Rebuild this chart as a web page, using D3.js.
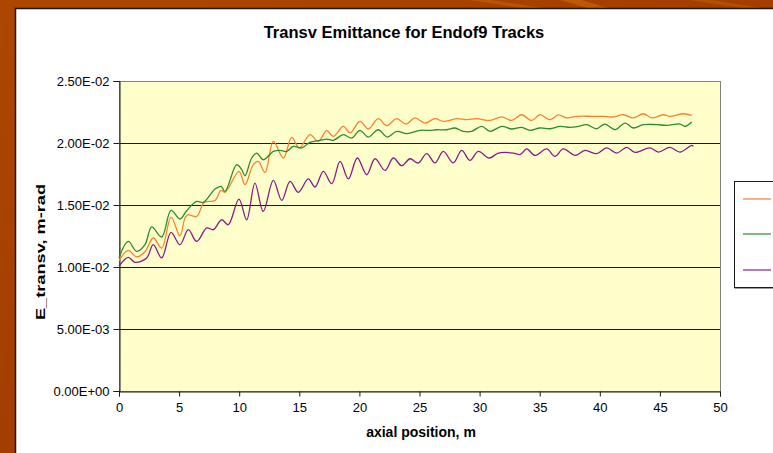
<!DOCTYPE html>
<html>
<head>
<meta charset="utf-8">
<script src="https://cdn.jsdelivr.net/npm/d3@7"></script>
<style>
  html, body { margin: 0; padding: 0; }
  body { width: 773px; height: 453px; overflow: hidden; background: #a84300; }
  svg { display: block; }
</style>
</head>
<body>
<svg id="chart" width="773" height="453"></svg>
<script>
// Transverse emittance along the channel for three track sets
const xTicks = [0, 5, 10, 15, 20, 25, 30, 35, 40, 45, 50];
const yTicks = [0, 0.005, 0.01, 0.015, 0.02, 0.025];

const orangeX = [0, 0.77, 1.47, 2.16, 2.85, 3.55, 4.33, 5.07, 5.49, 5.74, 6.46, 7.10, 7.99, 8.49, 8.82, 9.98, 10.48, 11.17, 11.59, 12.15, 12.84, 13.67, 14.37, 15.0, 15.89, 16.58, 17.28, 17.83, 18.66, 19.22, 20.05, 20.74, 21.57, 22.27, 23.10, 23.88, 24.63, 25.46, 26.29, 26.98, 28.09, 28.93, 29.76, 30.87, 31.84, 32.67, 33.50, 34.33, 35.02, 35.86, 36.55, 37.25, 38.08, 39.46, 40.29, 41.12, 41.96, 42.79, 43.62, 44.32, 45.28, 45.84, 46.94, 47.65];
const orangeY = [0.01051, 0.01134, 0.01081, 0.01123, 0.01234, 0.01153, 0.01403, 0.01252, 0.01395, 0.01422, 0.01408, 0.01521, 0.01537, 0.01618, 0.01602, 0.01771, 0.01665, 0.01825, 0.01852, 0.01763, 0.02013, 0.01879, 0.02045, 0.01960, 0.02067, 0.02013, 0.02099, 0.02053, 0.02134, 0.02081, 0.02174, 0.02113, 0.02196, 0.02140, 0.02196, 0.02153, 0.02202, 0.02161, 0.02196, 0.02174, 0.02196, 0.02188, 0.02196, 0.02182, 0.02210, 0.02182, 0.02228, 0.02182, 0.02228, 0.02188, 0.02226, 0.02202, 0.02215, 0.02215, 0.02215, 0.02210, 0.02228, 0.02202, 0.02236, 0.02202, 0.02228, 0.02215, 0.02236, 0.02223];

const greenX = [0, 0.77, 1.47, 2.16, 2.72, 3.55, 4.33, 5.07, 5.63, 6.46, 7.01, 7.99, 8.49, 8.82, 9.79, 10.21, 10.48, 11.04, 11.46, 12.0, 12.84, 13.39, 13.95, 14.50, 15.20, 15.89, 16.72, 17.28, 17.83, 18.66, 19.36, 20.05, 20.74, 21.57, 22.32, 23.10, 23.94, 25.04, 25.87, 26.43, 27.26, 27.95, 28.64, 29.34, 30.17, 30.87, 31.84, 32.67, 33.50, 34.19, 35.02, 35.86, 36.69, 37.52, 38.21, 38.91, 39.74, 40.43, 41.26, 42.10, 42.79, 43.62, 44.73, 45.57, 46.67, 47.09, 47.65];
const greenY = [0.01075, 0.01206, 0.01126, 0.01180, 0.01323, 0.01242, 0.01456, 0.01387, 0.01454, 0.01529, 0.01521, 0.01629, 0.01650, 0.01610, 0.01825, 0.01785, 0.01736, 0.01879, 0.01919, 0.01865, 0.01932, 0.01940, 0.01932, 0.01973, 0.01960, 0.02005, 0.02021, 0.02032, 0.02021, 0.02067, 0.02040, 0.02102, 0.02048, 0.02107, 0.02048, 0.02094, 0.02075, 0.02102, 0.02102, 0.02107, 0.02107, 0.02121, 0.02094, 0.02094, 0.02134, 0.02094, 0.02134, 0.02113, 0.02126, 0.02102, 0.02121, 0.02115, 0.02134, 0.02126, 0.02134, 0.02148, 0.02115, 0.02153, 0.02107, 0.02161, 0.02121, 0.02148, 0.02148, 0.02142, 0.02153, 0.02134, 0.02169];

const purpleX = [0, 0.77, 1.33, 2.30, 2.85, 3.55, 4.33, 5.07, 5.77, 6.46, 7.30, 7.85, 8.54, 9.09, 9.98, 10.62, 11.31, 12.0, 12.84, 13.54, 14.23, 14.92, 15.75, 16.31, 17.0, 17.70, 18.39, 19.08, 19.83, 20.61, 21.30, 22.13, 22.82, 23.52, 24.21, 24.90, 25.60, 26.29, 26.98, 27.81, 28.51, 29.20, 29.89, 30.81, 31.56, 32.80, 33.36, 33.92, 34.61, 35.58, 36.27, 36.96, 37.94, 38.77, 39.74, 40.57, 41.41, 42.24, 42.93, 44.18, 44.87, 45.84, 46.67, 47.65, 47.78];
const purpleY = [0.01006, 0.01077, 0.01037, 0.01073, 0.01180, 0.01073, 0.01279, 0.01180, 0.01301, 0.01206, 0.01315, 0.01301, 0.01381, 0.01341, 0.01548, 0.01381, 0.01677, 0.01448, 0.01698, 0.01537, 0.01690, 0.01602, 0.01710, 0.01645, 0.01771, 0.01672, 0.01852, 0.01710, 0.01879, 0.01744, 0.01873, 0.01779, 0.01879, 0.01817, 0.01873, 0.01839, 0.01914, 0.01839, 0.01932, 0.01839, 0.01940, 0.01860, 0.01932, 0.01879, 0.01919, 0.01919, 0.01906, 0.01952, 0.01900, 0.01952, 0.01892, 0.01952, 0.01900, 0.01940, 0.01914, 0.01960, 0.01919, 0.01965, 0.01924, 0.01960, 0.01927, 0.01965, 0.01927, 0.01981, 0.01973];

const seriesColors = ["#ff7f2a", "#2a8c2a", "#8a1a8a"];

const series = [
  { x: orangeX, y: orangeY, color: seriesColors[0] },
  { x: greenX, y: greenY, color: seriesColors[1] },
  { x: purpleX, y: purpleY, color: seriesColors[2] }
];

const svg = d3.select("#chart");
const font = "'Liberation Sans', Arial, sans-serif";

// slide backdrop: warm brown with a few lighter streaks along the top edge
const defs = svg.append("defs");
const bg = defs.append("linearGradient").attr("id", "bgGrad")
  .attr("x1", "0").attr("y1", "0").attr("x2", "1").attr("y2", "1");
bg.append("stop").attr("offset", "0%").attr("stop-color", "#ad4600");
bg.append("stop").attr("offset", "60%").attr("stop-color", "#a23c00");
bg.append("stop").attr("offset", "100%").attr("stop-color", "#983800");
svg.append("rect").attr("width", 773).attr("height", 453).attr("fill", "url(#bgGrad)");
const streaks = [[470, 540, 0.35], [560, 600, 0.45], [690, 760, 0.3]];
streaks.forEach(s => {
  svg.append("path")
    .attr("d", `M${s[0]},0 L${s[0] + 22},0 L${s[1] + 14},10 L${s[1] - 6},10 Z`)
    .attr("fill", "#d07a10").attr("opacity", s[2]);
});

// chart area
svg.append("rect").attr("x", 15.5).attr("y", 8.5).attr("width", 800).attr("height", 500)
  .attr("fill", "#ffffff").attr("stroke", "#1a1a1a").attr("stroke-width", 1.5);

const x = d3.scaleLinear().domain([0, 50]).range([119, 720]);
const y = d3.scaleLinear().domain([0, 0.025]).range([391, 81]);

// plot area
svg.append("rect").attr("x", x(0)).attr("y", y(0.025))
  .attr("width", x(50) - x(0)).attr("height", y(0) - y(0.025))
  .attr("fill", "#ffffcc");

// horizontal gridlines
svg.append("g").selectAll("line")
  .data(yTicks.filter(t => t > 0 && t < 0.025))
  .join("line")
  .attr("x1", x(0)).attr("x2", x(50))
  .attr("y1", d => Math.round(y(d)) + 0.5).attr("y2", d => Math.round(y(d)) + 0.5)
  .attr("stroke", "#1a1a1a").attr("stroke-width", 1);

// plot border
svg.append("rect").attr("x", x(0) + 0.5).attr("y", y(0.025) + 0.5)
  .attr("width", x(50) - x(0)).attr("height", y(0) - y(0.025))
  .attr("fill", "none").attr("stroke", "#808080").attr("stroke-width", 1);

function sci(v) {
  if (v === 0) return "0.00E+00";
  const [m, e] = v.toExponential(2).split("e");
  const n = parseInt(e, 10);
  return m + "E" + (n < 0 ? "-" : "+") + String(Math.abs(n)).padStart(2, "0");
}

// axes
const yAxis = d3.axisLeft(y).tickValues(yTicks).tickFormat(sci).tickSize(6).tickPadding(4);
const gy = svg.append("g").attr("transform", `translate(${x(0) + 0.5},0)`).call(yAxis);
const xAxis = d3.axisBottom(x).tickValues(xTicks).tickFormat(d3.format("d")).tickSize(5).tickPadding(6);
const gx = svg.append("g").attr("transform", `translate(0,${y(0) + 0.5})`).call(xAxis);
[gx, gy].forEach(g => {
  g.select(".domain").attr("stroke", "#1a1a1a");
  g.selectAll(".tick line").attr("stroke", "#1a1a1a");
  g.selectAll("text").attr("font-family", font).attr("font-size", 13).attr("fill", "#000");
});

// series lines
const line = d3.line()
  .x(d => x(d[0])).y(d => y(d[1]))
  .curve(d3.curveCatmullRom.alpha(0.5));
series.forEach(s => {
  svg.append("path")
    .datum(s.x.map((v, i) => [v, s.y[i]]))
    .attr("d", line)
    .attr("fill", "none")
    .attr("stroke", s.color)
    .attr("stroke-width", 1.3)
    .attr("stroke-linejoin", "round");
});

// titles
svg.append("text").attr("x", 404).attr("y", 38).attr("text-anchor", "middle")
  .attr("font-family", font).attr("font-size", 16.5).attr("font-weight", "bold")
  .text("Transv Emittance for Endof9 Tracks");
svg.append("text").attr("x", 421).attr("y", 437).attr("text-anchor", "middle")
  .attr("font-family", font).attr("font-size", 14).attr("font-weight", "bold")
  .text("axial position, m");
svg.append("text").attr("transform", "translate(45,252) rotate(-90)").attr("text-anchor", "middle")
  .attr("font-family", font).attr("font-size", 13).attr("font-weight", "bold")
  .attr("textLength", 136).attr("lengthAdjust", "spacingAndGlyphs")
  .text("E_transv, m-rad");

// legend box (extends past the right edge)
const legend = svg.append("g");
legend.append("rect").attr("x", 734.5).attr("y", 181.5).attr("width", 60).attr("height", 106)
  .attr("fill", "#ffffff").attr("stroke", "#1a1a1a").attr("stroke-width", 1);
legend.append("line").attr("x1", 734.5).attr("x2", 800).attr("y1", 288.5).attr("y2", 288.5)
  .attr("stroke", "#9a9a9a");
legend.selectAll("line.key")
  .data(series)
  .join("line").attr("class", "key")
  .attr("x1", 743).attr("x2", 771)
  .attr("y1", (d, i) => [199, 234, 270][i]).attr("y2", (d, i) => [199, 234, 270][i])
  .attr("stroke", d => d.color).attr("stroke-width", 1.6).attr("opacity", 0.75);
</script>
</body>
</html>
